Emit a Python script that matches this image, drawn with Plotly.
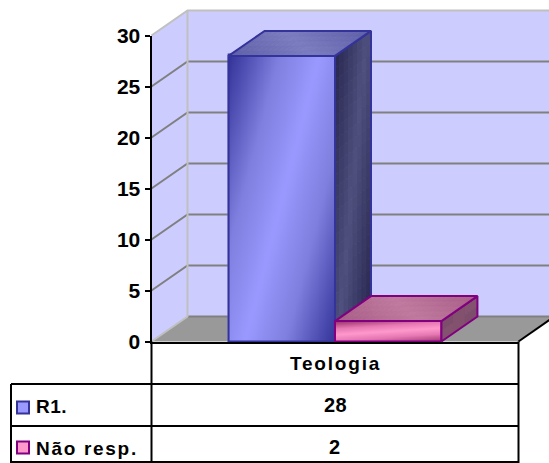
import plotly.graph_objects as go

# ---- data ----
categories = ["Teologia"]
series_names = ["R1.", "Não resp."]
series_r1 = [28]
series_nr = [2]
tick_values = [0, 5, 10, 15, 20, 25, 30]

# ---- style / geometry ----
W, H = 549, 463
PX_L, PX_R, PX_Y0, PX_Y30 = 151.5, 518.5, 341.5, 35.5
UX = 1 / (PX_R - PX_L)
UY = 30 / (PX_Y0 - PX_Y30)
DX = 36 * UX
DY = 25 * UY
BAR_W = 0.29
FONT = "Liberation Sans, Arial, sans-serif"
WALL, FLOOR, EDGE, GRID = "#ccccff", "#999999", "#c0c0c0", "#808080"


def hexrgb(h):
    return tuple(int(h[i:i + 2], 16) for i in (1, 3, 5))


def mix(a, b, t):
    a, b = hexrgb(a), hexrgb(b)
    return "rgb(%d,%d,%d)" % tuple(round(a[i] + (b[i] - a[i]) * t) for i in range(3))


fig = go.Figure()


def poly(xs, ys, fill, line=None, lw=1, ax=("x", "y")):
    fig.add_trace(go.Scatter(
        x=xs + xs[:1], y=ys + ys[:1], mode="lines", fill="toself", fillcolor=fill,
        line=dict(color=line or fill, width=lw), hoverinfo="skip", showlegend=False,
        xaxis=ax[0], yaxis=ax[1]))


def seg(xs, ys, color, lw=2):
    fig.add_trace(go.Scatter(
        x=xs, y=ys, mode="lines", line=dict(color=color, width=lw), hoverinfo="skip",
        showlegend=False))


# walls and floor
poly([0, DX, DX, 0], [0, DY, 30 + DY, 30], WALL, WALL, 0)
poly([DX, 1 + DX, 1 + DX, DX], [DY, DY, 30 + DY, 30 + DY], WALL, WALL, 0)
poly([0, 1, 1 + DX, DX], [0, 0, DY, DY], FLOOR, FLOOR, 0)

# gridlines, through the tick values
for v in tick_values[1:-1]:
    seg([0, DX, 1 + DX], [v, v + DY, v + DY], GRID, 2)
seg([DX, 1 + DX], [DY, DY], GRID, 2)
seg([0, DX, DX], [0, DY, 30 + DY], EDGE, 2)
seg([0, DX, 1 + DX], [30, 30 + DY, 30 + DY], EDGE, 2)
seg([1, 1 + DX], [0, DY], "#000000", 2)


def face(p0, pu, pv, nu, nv, ku, kv, c0, c1, ax):
    """Shade a parallelogram p0 + a*pu + b*pv with a diagonal dark-light-dark band."""
    s = ku + kv
    for i in range(nu):
        for j in range(nv):
            a0, a1, b0, b1 = i / nu, (i + 1) / nu, j / nv, (j + 1) / nv
            t = 1 - abs((ku * (a0 + a1) / 2 + kv * (b0 + b1) / 2) / s * 2 - 1)
            xs = [p0[0] + pu[0] * a + pv[0] * b for a, b in ((a0, b0), (a1, b0), (a1, b1), (a0, b1))]
            ys = [p0[1] + pu[1] * a + pv[1] * b for a, b in ((a0, b0), (a1, b0), (a1, b1), (a0, b1))]
            poly(xs, ys, mix(c0, c1, t), None, 0.8, ax)


def draw_bar(left, value, dark, mid, light, border, side_a, side_b, top_a, top_b, ku, kv, side_n, ax):
    right = left + BAR_W
    xa, ya = ax
    nu, nv = 60, 60
    us = [i / nu for i in range(nu + 1)]
    vs = [i / nv for i in range(nv + 1)]
    smax = ku + kv
    z = [[1 - abs((ku * u + kv * (1 - v)) / smax * 2 - 1) for u in us] for v in vs]
    fig.add_trace(go.Heatmap(
        x=[left + BAR_W * u for u in us], y=[value * v for v in vs], z=z, zmin=0, zmax=1,
        zsmooth="best", showscale=False, hoverinfo="skip",
        colorscale=[[0, dark], [0.55, mid], [1, light]], xaxis=xa, yaxis=ya))
    fig.add_trace(go.Bar(
        x=[left + BAR_W / 2], y=[value], width=[BAR_W], showlegend=False, hoverinfo="skip",
        marker=dict(color="rgba(0,0,0,0)", line=dict(color=border, width=2)),
        xaxis=xa, yaxis=ya))
    # side face: a runs back, b runs down from the top
    face((right, value), (DX, DY), (0, -value), side_n[0], side_n[1], 1.0, 0.8, side_a, side_b, ax)
    poly([right, right + DX, right + DX, right], [0, DY, value + DY, value],
         "rgba(0,0,0,0)", border, 2, ax)
    # top face: a runs across, b runs back
    face((left, value), (BAR_W, 0), (DX, DY), 20, 5, 1.0, 0.6, top_a, top_b, ax)
    poly([left, right, right + DX, left + DX], [value, value, value + DY, value + DY],
         "rgba(0,0,0,0)", border, 2, ax)


draw_bar(0.5 - BAR_W, series_r1[0], "#333399", "#7f7fdf", "#9999ff", "#333399",
         "#26264f", "#50507f", "#5f5fa8", "#7c7cc0", 1.0, 0.7, (8, 24), ("x2", "y2"))
draw_bar(0.5, series_nr[0], "#99336b", "#e678b4", "#ff99cc", "#800080",
         "#754a68", "#85536f", "#a85e88", "#c07a9e", 0.35, 1.0, (3, 2), ("x3", "y3"))

hidden = dict(visible=False, fixedrange=True)
x_range = [(0 - PX_L) * UX, (W - PX_L) * UX]
y_range = [(PX_Y0 - H) * UY, PX_Y0 * UY]
fig.add_trace(go.Scatter(x=[0.5] * len(tick_values), y=tick_values, mode="none", showlegend=False,
                         hoverinfo="skip", xaxis="x4", yaxis="y4"))
fig.update_layout(
    width=W, height=H, margin=dict(l=0, r=0, t=0, b=0, pad=0, autoexpand=False), autosize=False,
    paper_bgcolor="white", plot_bgcolor="rgba(0,0,0,0)", barmode="overlay",
    xaxis=dict(domain=[0, 1], range=x_range, **hidden),
    yaxis=dict(domain=[0, 1], range=y_range, **hidden),
    xaxis2=dict(range=x_range, overlaying="x", anchor="y2", **hidden),
    yaxis2=dict(range=y_range, overlaying="y", anchor="x2", **hidden),
    xaxis3=dict(range=x_range, overlaying="x", anchor="y3", **hidden),
    yaxis3=dict(range=y_range, overlaying="y", anchor="x3", **hidden),
    xaxis4=dict(domain=[PX_L / W, PX_R / W], range=[0, 1], anchor="y4", showticklabels=False,
                ticks="", showgrid=False, zeroline=False, showline=True, linecolor="black",
                linewidth=2, fixedrange=True),
    yaxis4=dict(domain=[(H - PX_Y0) / H, (H - PX_Y30) / H], range=[0, 30], anchor="x4",
                tickmode="array", tickvals=tick_values, ticktext=[str(v) for v in tick_values],
                ticks="outside", ticklen=5, tickwidth=2, tickcolor="black", showline=True,
                linecolor="black", linewidth=2, showgrid=False, zeroline=False,
                tickfont=dict(family=FONT, size=21, color="black", weight="bold"),
                fixedrange=True),
)


def px_x(p):
    return p / W


def px_y(p):
    return 1 - p / H


def line(x0, y0, x1, y1):
    fig.add_shape(type="line", xref="paper", yref="paper", x0=px_x(x0), y0=px_y(y0),
                  x1=px_x(x1), y1=px_y(y1), line=dict(color="black", width=2))


# data table
line(PX_L, PX_Y0, PX_L, 463)
line(PX_R, PX_Y0, PX_R, 463)
line(11, 384, PX_R, 384)
line(11, 426, PX_R, 426)
line(11, 462, PX_R, 462)
line(11, 384, 11, 463)


def text(x, y, s, anchor="center", spacing=1.5, size=19):
    fig.add_annotation(
        xref="paper", yref="paper", x=px_x(x), y=px_y(y), xanchor=anchor, yanchor="middle",
        showarrow=False, borderpad=0, borderwidth=0,
        text='<span style="letter-spacing:%gpx">%s</span>' % (spacing, s),
        font=dict(family=FONT, size=size, color="black", weight="bold"))


text((PX_L + PX_R) / 2 + 0, 363, categories[0], spacing=1.8, size=19)
text((PX_L + PX_R) / 2, 405, str(series_r1[0]), spacing=0.5, size=20)
text((PX_L + PX_R) / 2, 447, str(series_nr[0]), spacing=0.5, size=20)
text(36, 406.5, series_names[0], "left", spacing=0.5)
text(36, 448, series_names[1], "left", spacing=1.7)

for y0, fill, border in ((401.5, "#9999ff", "#333399"), (441.5, "#ff99cc", "#800080")):
    fig.add_shape(type="rect", xref="paper", yref="paper", x0=px_x(17), x1=px_x(29),
                  y0=px_y(y0), y1=px_y(y0 + 12), fillcolor=fill, line=dict(color=border, width=2))

fig.write_html("out.html", config={"displayModeBar": False},
               post_script="document.body.style.margin='0';document.body.style.overflow='hidden';")
